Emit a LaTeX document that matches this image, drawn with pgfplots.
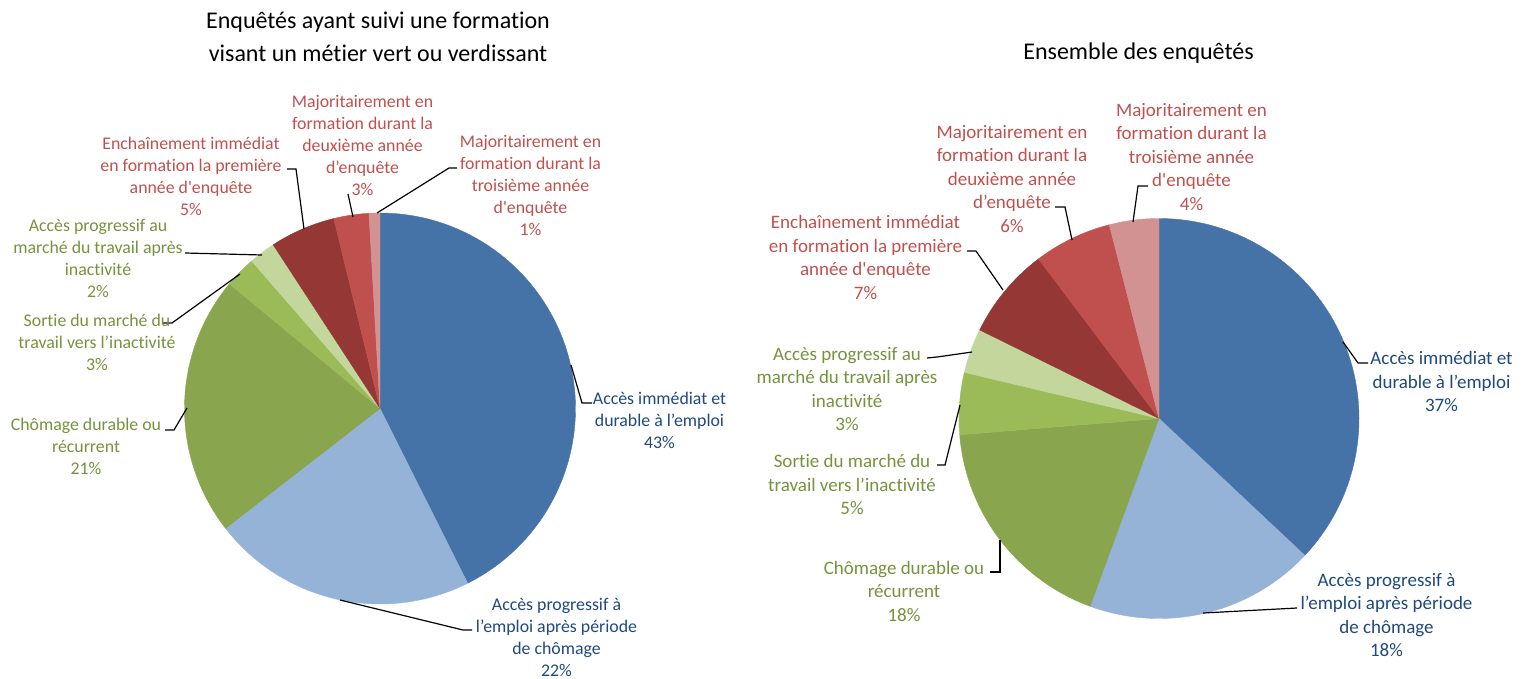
\documentclass[border=0pt]{standalone}
\usepackage{fontspec}
\setmainfont{Carlito}[Ligatures={TeX,NoCommon}]
\newfontfamily\plainf{Carlito}[Ligatures=NoCommon]
\newcommand\sq{{\plainf'}}
\usepackage{pgfplots}
\pgfplotsset{compat=1.18}
\definecolor{cBlue}{HTML}{4572A7}
\definecolor{cLBlue}{HTML}{95B3D7}
\definecolor{cGreen}{HTML}{89A54E}
\definecolor{cLGreen}{HTML}{9BBB59}
\definecolor{cVLGreen}{HTML}{C3D69B}
\definecolor{cDRed}{HTML}{953735}
\definecolor{cRed}{HTML}{C0504D}
\definecolor{cPink}{HTML}{D29291}
\definecolor{tBlue}{HTML}{1F497D}
\definecolor{tGreen}{HTML}{76923C}
\definecolor{tRed}{HTML}{C0504D}
\newcommand\cum{0}
% #1 cx, #2 cy, #3 r, #4 share (%), #5 colour
\newcommand\pieslice[5]{%
  \pgfmathsetmacro\aS{3.6*\cum}%
  \pgfmathsetmacro\aE{3.6*(\cum+#4)}%
  \pgfmathsetmacro\newcum{\cum+#4}%
  \xdef\cum{\newcum}%
  \edef\tmp{\noexpand\addplot[fill=#5, draw=#5, line width=0.2pt, mark=none, domain=\aS:\aE, samples=90] ({#1+#3*sin(x)}, {#2-#3*cos(x)}) -- (axis cs:#1,#2) -- cycle;}%
  \tmp}
\begin{document}
\begin{tikzpicture}
\begin{axis}[scale only axis, width=762.5pt, height=339.5pt,
  xmin=0, xmax=1525, ymin=0, ymax=679, y dir=reverse,
  hide axis, clip=false]
\path (rel axis cs:0,0) rectangle (rel axis cs:1,1);
% ---------- left pie ----------
\gdef\cum{0}
\pieslice{380}{408.5}{195.5}{42.6}{cBlue}
\pieslice{380}{408.5}{195.5}{21.9}{cLBlue}
\pieslice{380}{408.5}{195.5}{21.5}{cGreen}
\pieslice{380}{408.5}{195.5}{2.6}{cLGreen}
\pieslice{380}{408.5}{195.5}{2.2}{cVLGreen}
\pieslice{380}{408.5}{195.5}{5.4}{cDRed}
\pieslice{380}{408.5}{195.5}{2.9}{cRed}
\pieslice{380}{408.5}{195.5}{0.9}{cPink}
% ---------- right pie ----------
\gdef\cum{0}
\pieslice{1159}{418.5}{200}{37.0}{cBlue}
\pieslice{1159}{418.5}{200}{18.6}{cLBlue}
\pieslice{1159}{418.5}{200}{18.1}{cGreen}
\pieslice{1159}{418.5}{200}{5.0}{cLGreen}
\pieslice{1159}{418.5}{200}{3.6}{cVLGreen}
\pieslice{1159}{418.5}{200}{7.4}{cDRed}
\pieslice{1159}{418.5}{200}{6.3}{cRed}
\pieslice{1159}{418.5}{200}{4.0}{cPink}
% ---------- leader lines ----------
\addplot[black, line width=0.6pt, mark=none] coordinates {(571,365) (582,403) (592,403)};
\addplot[black, line width=0.6pt, mark=none] coordinates {(340,600) (463,630) (472,630)};
\addplot[black, line width=0.6pt, mark=none] coordinates {(165,430) (174,430) (187,408)};
\addplot[black, line width=0.6pt, mark=none] coordinates {(163,323) (172,323) (240,274)};
\addplot[black, line width=0.6pt, mark=none] coordinates {(185,253) (262,255)};
\addplot[black, line width=0.6pt, mark=none] coordinates {(287,169) (296,169) (304,229)};
\addplot[black, line width=0.6pt, mark=none] coordinates {(348,194) (353,217)};
\addplot[black, line width=0.6pt, mark=none] coordinates {(457,168) (449,168) (377,213)};
\addplot[black, line width=0.6pt, mark=none] coordinates {(1343,342) (1358,363) (1368,363)};
\addplot[black, line width=0.6pt, mark=none] coordinates {(1203,613) (1297,608)};
\addplot[black, line width=0.6pt, mark=none] coordinates {(990,572) (1000,572) (1000,540)};
\addplot[black, line width=0.6pt, mark=none] coordinates {(937,465) (945,465) (960,405)};
\addplot[black, line width=0.6pt, mark=none] coordinates {(927,358) (937,357) (972,352)};
\addplot[black, line width=0.6pt, mark=none] coordinates {(967,251) (976,251) (1003,290)};
\addplot[black, line width=0.6pt, mark=none] coordinates {(1055,207) (1065,207) (1072,240)};
\addplot[black, line width=0.6pt, mark=none] coordinates {(1148,186) (1138,186) (1133,222)};
% ---------- titles ----------
\node[align=center, inner sep=0pt, font=\fontsize{12}{16.5}\selectfont] at (axis cs:378,37) {Enquêtés ayant suivi une formation\\visant un métier vert ou verdissant};
\node[align=center, inner sep=0pt, font=\fontsize{12}{16.5}\selectfont] at (axis cs:1138.5,53) {Ensemble des enquêtés};
% ---------- labels ----------
\tikzset{lblL/.style={align=center, inner sep=0pt, font=\fontsize{8.9}{11}\selectfont},
         lblR/.style={align=center, inner sep=0pt, font=\fontsize{9.5}{11.75}\selectfont}}
\node[lblL, text=tBlue] at (axis cs:659.5,420) {Accès immédiat et\\durable à l’emploi\\43\%};
\node[lblL, text=tBlue] at (axis cs:556.5,637.5) {Accès progressif à\\l’emploi après période\\de chômage\\22\%};
\node[lblL, text=tGreen] at (axis cs:86,446.5) {Chômage durable ou\\récurrent\\21\%};
\node[lblL, text=tGreen] at (axis cs:97,342) {Sortie du marché du\\travail vers l’inactivité\\3\%};
\node[lblL, text=tGreen] at (axis cs:98,258) {Accès progressif au\\marché du travail après\\inactivité\\2\%};
\node[lblL, text=tRed] at (axis cs:191,176) {Enchaînement immédiat\\en formation la première\\année d\sq enquête\\5\%};
\node[lblL, text=tRed] at (axis cs:362.5,145) {Majoritairement en\\formation durant la\\deuxième année\\d’enquête\\3\%};
\node[lblL, text=tRed] at (axis cs:530.5,185.5) {Majoritairement en\\formation durant la\\troisième année\\d\sq enquête\\1\%};
\node[lblR, text=tBlue] at (axis cs:1441.5,381.5) {Accès immédiat et\\durable à l’emploi\\37\%};
\node[lblR, text=tBlue] at (axis cs:1386.5,615) {Accès progressif à\\l’emploi après période\\de chômage\\18\%};
\node[lblR, text=tGreen] at (axis cs:904,591) {Chômage durable ou\\récurrent\\18\%};
\node[lblR, text=tGreen] at (axis cs:852,484.5) {Sortie du marché du\\travail vers l’inactivité\\5\%};
\node[lblR, text=tGreen] at (axis cs:847,389) {Accès progressif au\\marché du travail après\\inactivité\\3\%};
\node[lblR, text=tRed] at (axis cs:865.5,257.5) {Enchaînement immédiat\\en formation la première\\année d\sq enquête\\7\%};
\node[lblR, text=tRed] at (axis cs:1012,179) {Majoritairement en\\formation durant la\\deuxième année\\d’enquête\\6\%};
\node[lblR, text=tRed] at (axis cs:1191.5,157) {Majoritairement en\\formation durant la\\troisième année\\d\sq enquête\\4\%};
\end{axis}
\end{tikzpicture}
\end{document}
